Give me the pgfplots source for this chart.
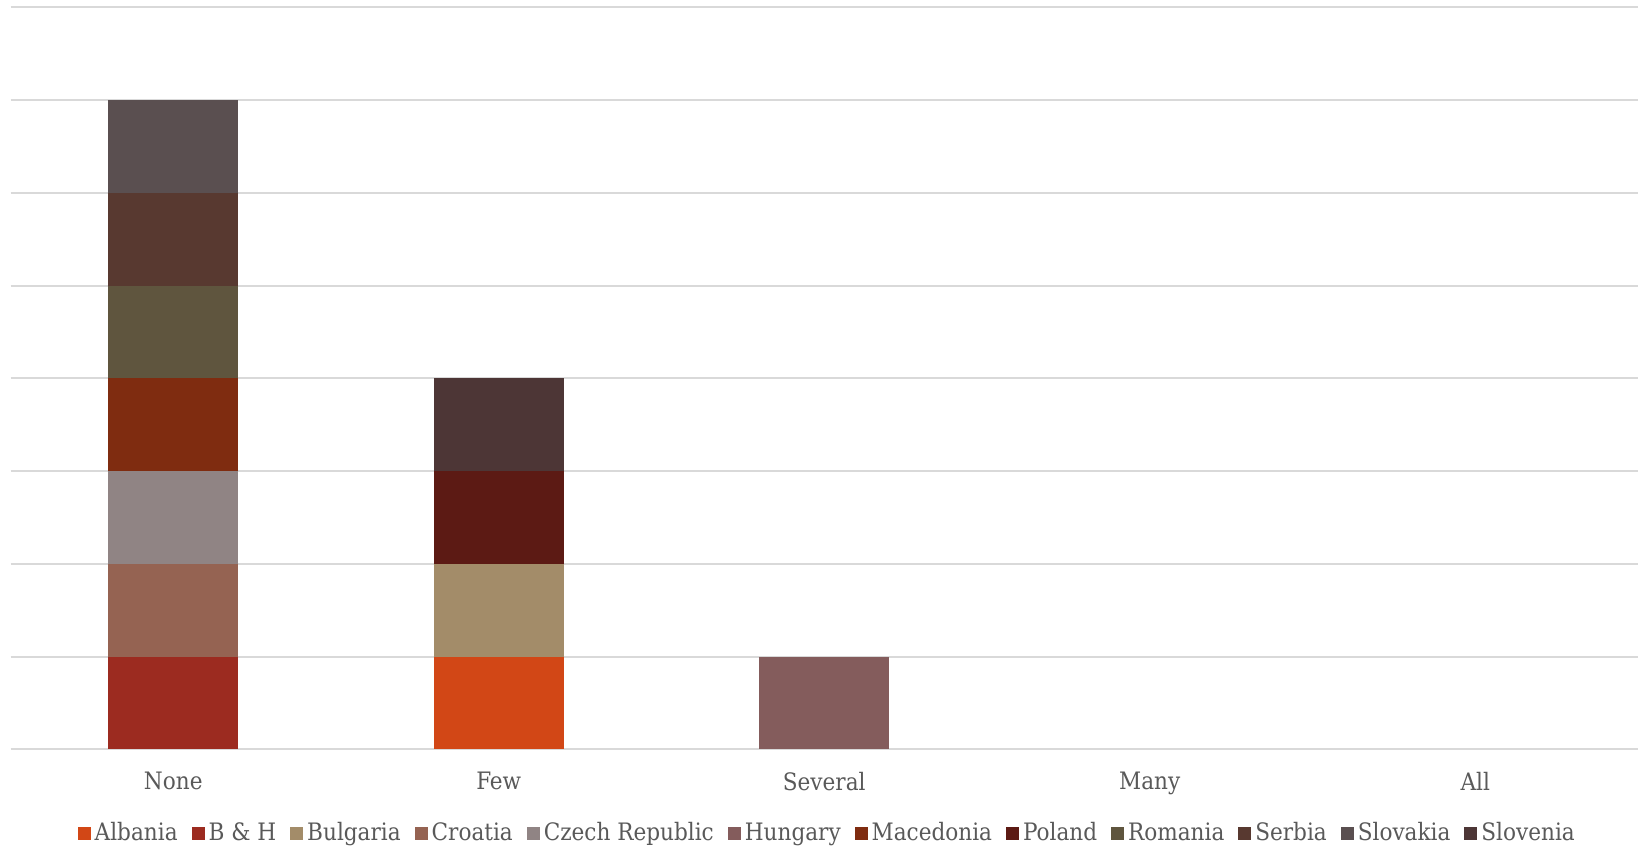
\documentclass[border=0pt]{standalone}
\usepackage{fontspec}
\setmainfont{DejaVu Serif Condensed}
\usepackage{pgfplots}
\pgfplotsset{compat=1.18}
\definecolor{cAlb}{HTML}{D24716}
\definecolor{cBH}{HTML}{9C2B20}
\definecolor{cBul}{HTML}{A38C69}
\definecolor{cCro}{HTML}{956352}
\definecolor{cCze}{HTML}{908484}
\definecolor{cHun}{HTML}{845C5C}
\definecolor{cMac}{HTML}{7F2C10}
\definecolor{cPol}{HTML}{5C1A14}
\definecolor{cRom}{HTML}{5F553E}
\definecolor{cSer}{HTML}{583930}
\definecolor{cSlk}{HTML}{5A4F50}
\definecolor{cSlo}{HTML}{4D3636}
\definecolor{txt}{HTML}{595959}
\definecolor{gridc}{HTML}{D9D9D9}
\begin{document}
\begin{tikzpicture}
\begin{axis}[
  at={(0,0)}, anchor=south west,
  scale only axis, width=813.75pt, height=371pt,
  ybar stacked, bar width=0.4,
  xmin=-0.5, xmax=4.5, ymin=0, ymax=8,
  xtick={0,1,2,3,4}, xticklabels={None,Few,Several,Many,All},
  ytick={0,1,...,8}, yticklabels={},
  major tick length=0pt,
  axis line style={draw=none},
  ymajorgrids, xmajorgrids=false,
  y grid style={draw=gridc, line width=1pt},
  xticklabel style={font=\fontsize{12}{14}\selectfont, text=txt, yshift=-8pt},
  legend columns=12,
  legend style={at={(0.5,0)}, anchor=center, yshift=-42pt, xshift=2pt, draw=none,
    font=\fontsize{12}{14}\selectfont, text=txt,
    /tikz/every even column/.append style={column sep=5pt}},
  legend image code/.code={\fill[#1] (0pt,-3.3pt) rectangle (6.5pt,3.3pt);},
  legend cell align=left,
  every axis plot/.append style={draw=none},
]
\addplot[fill=cAlb] coordinates {(0,0) (1,1) (2,0) (3,0) (4,0)};
\addplot[fill=cBH] coordinates {(0,1) (1,0) (2,0) (3,0) (4,0)};
\addplot[fill=cBul] coordinates {(0,0) (1,1) (2,0) (3,0) (4,0)};
\addplot[fill=cCro] coordinates {(0,1) (1,0) (2,0) (3,0) (4,0)};
\addplot[fill=cCze] coordinates {(0,1) (1,0) (2,0) (3,0) (4,0)};
\addplot[fill=cHun] coordinates {(0,0) (1,0) (2,1) (3,0) (4,0)};
\addplot[fill=cMac] coordinates {(0,1) (1,0) (2,0) (3,0) (4,0)};
\addplot[fill=cPol] coordinates {(0,0) (1,1) (2,0) (3,0) (4,0)};
\addplot[fill=cRom] coordinates {(0,1) (1,0) (2,0) (3,0) (4,0)};
\addplot[fill=cSer] coordinates {(0,1) (1,0) (2,0) (3,0) (4,0)};
\addplot[fill=cSlk] coordinates {(0,1) (1,0) (2,0) (3,0) (4,0)};
\addplot[fill=cSlo] coordinates {(0,0) (1,1) (2,0) (3,0) (4,0)};
\legend{Albania,B \& H,Bulgaria,Croatia,Czech Republic,Hungary,Macedonia,Poland,Romania,Serbia,Slovakia,Slovenia}
\end{axis}
\pgfresetboundingbox
\path (-5.25pt,-51pt) rectangle (816.25pt,374.65pt);
\end{tikzpicture}
\end{document}
